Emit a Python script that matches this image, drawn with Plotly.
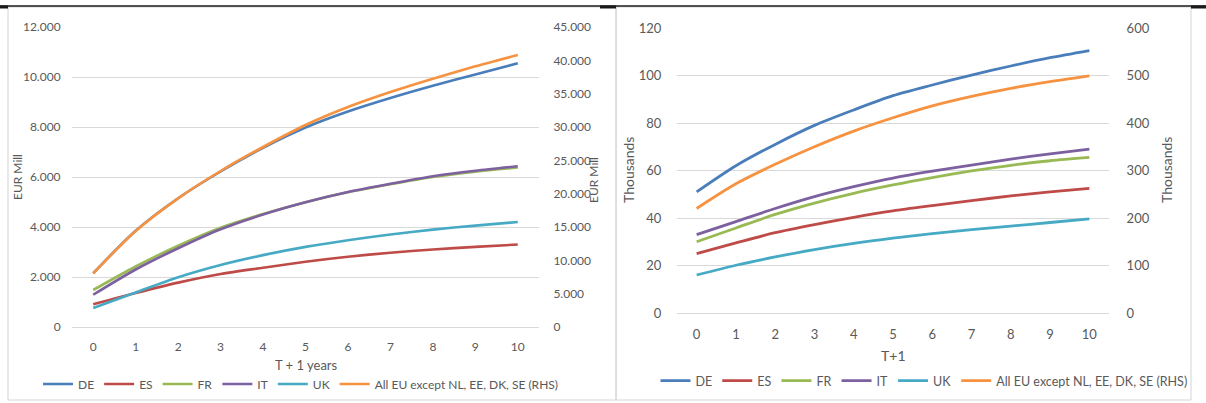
import plotly.graph_objects as go

W, H = 1206, 403

# ---------------- data ----------------
years = list(range(11))
series_names = ["DE", "ES", "FR", "IT", "UK", "All EU except NL, EE, DK, SE (RHS)"]
colors = ["#4A7EBB", "#BE4B48", "#98B954", "#7D60A0", "#46AAC5", "#F69240"]

# Left chart: EUR Mill (LHS for countries, RHS for EU aggregate)
eur_de = [2150, 3850, 5150, 6220, 7170, 7980, 8620, 9160, 9650, 10100, 10550]
eur_es = [910, 1360, 1775, 2120, 2370, 2610, 2810, 2970, 3100, 3205, 3300]
eur_fr = [1480, 2420, 3250, 3970, 4520, 4990, 5390, 5710, 6000, 6210, 6380]
eur_it = [1290, 2300, 3150, 3910, 4500, 4990, 5400, 5730, 6030, 6250, 6430]
eur_uk = [760, 1380, 1990, 2480, 2875, 3205, 3470, 3700, 3895, 4055, 4200]
eur_eu = [8050, 14400, 19300, 23400, 27000, 30300, 33000, 35250, 37250, 39100, 40800]

# Right chart: Thousands (LHS for countries, RHS for EU aggregate)
th_de = [51, 62, 71, 79, 85.5, 91.5, 96, 100.2, 104, 107.5, 110.5]
th_es = [25, 29.5, 33.8, 37.2, 40.3, 43, 45.2, 47.3, 49.3, 51, 52.5]
th_fr = [30, 35.8, 41.5, 46.3, 50.4, 53.9, 57, 59.8, 62.2, 64.1, 65.5]
th_it = [33, 38.5, 44, 49, 53.2, 56.8, 59.7, 62.3, 64.8, 67, 69]
th_uk = [16, 20.1, 23.6, 26.7, 29.3, 31.5, 33.4, 35.1, 36.6, 38.1, 39.6]
th_eu = [220, 272, 313, 350, 383, 411, 436, 456, 473, 487, 499]

left_title_x = "T + 1 years"
right_title_x = "T+1"
left_title_y = "EUR Mill"
right_title_y = "Thousands"

# ---------------- helpers ----------------
def px(x):
    return x / W

def py(y):
    return 1 - y / H

FONT = "Lato, 'Open Sans', sans-serif"
GRAY = "#595959"
GRID = "#D9D9D9"

fig = go.Figure()

left_series = [eur_de, eur_es, eur_fr, eur_it, eur_uk, eur_eu]
right_series = [th_de, th_es, th_fr, th_it, th_uk, th_eu]

for i, (name, vals) in enumerate(zip(series_names, left_series)):
    fig.add_trace(go.Scatter(
        x=years, y=vals, name=name, mode="lines",
        line=dict(color=colors[i], width=2.6, shape="spline", smoothing=0.8),
        xaxis="x", yaxis="y2" if i == 5 else "y",
        legend="legend", hoverinfo="skip",
    ))

for i, (name, vals) in enumerate(zip(series_names, right_series)):
    fig.add_trace(go.Scatter(
        x=years, y=vals, name=name, mode="lines",
        line=dict(color=colors[i], width=2.8, shape="spline", smoothing=0.8),
        xaxis="x2", yaxis="y4" if i == 5 else "y3",
        legend="legend2", hoverinfo="skip",
    ))

tickfont_l = dict(family=FONT, size=12, color=GRAY)
tickfont_r = dict(family=FONT, size=13, color=GRAY)

LX0, LX1, LY0, LY1 = 72, 539, 27, 327
RX0, RX1, RY0, RY1 = 677, 1109, 28, 313

common_x = dict(
    range=[-0.5, 10.5], tickvals=years, showgrid=False, zeroline=False,
    showline=False, ticks="outside", tickcolor="rgba(0,0,0,0)", fixedrange=True,
    automargin=False,
)

fig.update_layout(
    template="none",
    width=W, height=H, autosize=False,
    margin=dict(l=0, r=0, t=0, b=0, pad=0, autoexpand=False),
    paper_bgcolor="white", plot_bgcolor="white",
    separators=",.",
    xaxis=dict(domain=[px(LX0), px(LX1)], anchor="y", ticklen=9,
               tickfont=tickfont_l, **common_x),
    yaxis=dict(domain=[py(LY1), py(LY0)], anchor="x", range=[0, 12000], dtick=2000,
               tickformat=",d", showgrid=True, gridcolor=GRID, gridwidth=1,
               zeroline=True, zerolinecolor=GRID, zerolinewidth=1, showline=False,
               ticks="outside", ticklen=8, tickcolor="rgba(0,0,0,0)", tickfont=tickfont_l,
               automargin=False, fixedrange=True),
    yaxis2=dict(overlaying="y", side="right", anchor="x", range=[0, 45000], dtick=5000,
                tickformat=",d", showgrid=False, zeroline=False, showline=False,
                ticks="outside", ticklen=11, tickcolor="rgba(0,0,0,0)", tickfont=tickfont_l,
                automargin=False, fixedrange=True),
    xaxis2=dict(domain=[px(RX0), px(RX1)], anchor="y3", ticklen=9,
                tickfont=tickfont_r, **common_x),
    yaxis3=dict(domain=[py(RY1), py(RY0)], anchor="x2", range=[0, 120], dtick=20,
                showgrid=True, gridcolor=GRID, gridwidth=1,
                zeroline=True, zerolinecolor=GRID, zerolinewidth=1, showline=False,
                ticks="outside", ticklen=12, tickcolor="rgba(0,0,0,0)", tickfont=tickfont_r,
                automargin=False, fixedrange=True),
    yaxis4=dict(overlaying="y3", side="right", anchor="x2", range=[0, 600], dtick=100,
                showgrid=False, zeroline=False, showline=False,
                ticks="outside", ticklen=14, tickcolor="rgba(0,0,0,0)", tickfont=tickfont_r,
                automargin=False, fixedrange=True),
    legend=dict(orientation="h", x=px(301), y=py(384), xanchor="center", yanchor="middle",
                font=dict(family=FONT, size=12, color=GRAY), bgcolor="rgba(0,0,0,0)",
                itemwidth=30, tracegroupgap=0),
    legend2=dict(orientation="h", x=px(924), y=py(381), xanchor="center", yanchor="middle",
                 font=dict(family=FONT, size=12.5, color=GRAY), bgcolor="rgba(0,0,0,0)",
                 itemwidth=30, tracegroupgap=0),
    showlegend=True,
    hovermode=False,
)

# axis titles as annotations
ann = [
    dict(text=left_title_x, x=px(306), y=py(365), size=13),
    dict(text=right_title_x, x=px(893), y=py(355), size=14),
]
for a in ann:
    fig.add_annotation(text=a["text"], x=a["x"], y=a["y"], xref="paper", yref="paper",
                       showarrow=False, xanchor="center", yanchor="middle",
                       font=dict(family=FONT, size=a["size"], color=GRAY))
for (xx, yy, txt, sz) in [(17, 177, left_title_y, 12), (593, 180, left_title_y, 12),
                          (628, 170, right_title_y, 14), (1166, 170, right_title_y, 14)]:
    fig.add_annotation(text=txt, x=px(xx), y=py(yy), xref="paper", yref="paper",
                       showarrow=False, xanchor="center", yanchor="middle", textangle=-90,
                       font=dict(family=FONT, size=sz, color=GRAY))

# panel borders and top rule
shapes = [
    dict(type="rect", x0=px(8), x1=px(616), y0=py(400), y1=py(7),
         line=dict(color="#D4D4D4", width=1)),
    dict(type="rect", x0=px(616), x1=px(1191), y0=py(400), y1=py(7),
         line=dict(color="#D4D4D4", width=1)),
    dict(type="line", x0=0, x1=1, y0=py(6), y1=py(6), line=dict(color="#1A1A1A", width=1.5)),
    dict(type="rect", x0=0, x1=px(8), y0=py(8.5), y1=py(5.5), line=dict(width=0), fillcolor="#1A1A1A"),
    dict(type="rect", x0=px(600), x1=px(616), y0=py(8.5), y1=py(5.5), line=dict(width=0), fillcolor="#1A1A1A"),
    dict(type="rect", x0=px(1191), x1=1, y0=py(8.5), y1=py(5.5), line=dict(width=0), fillcolor="#1A1A1A"),
]
for s in shapes:
    fig.add_shape(xref="paper", yref="paper", layer="below", **s)

fig.write_html("out.html",
               config={"displayModeBar": False, "staticPlot": False},
               post_script="document.body.style.margin='0';document.body.style.overflow='hidden';")
